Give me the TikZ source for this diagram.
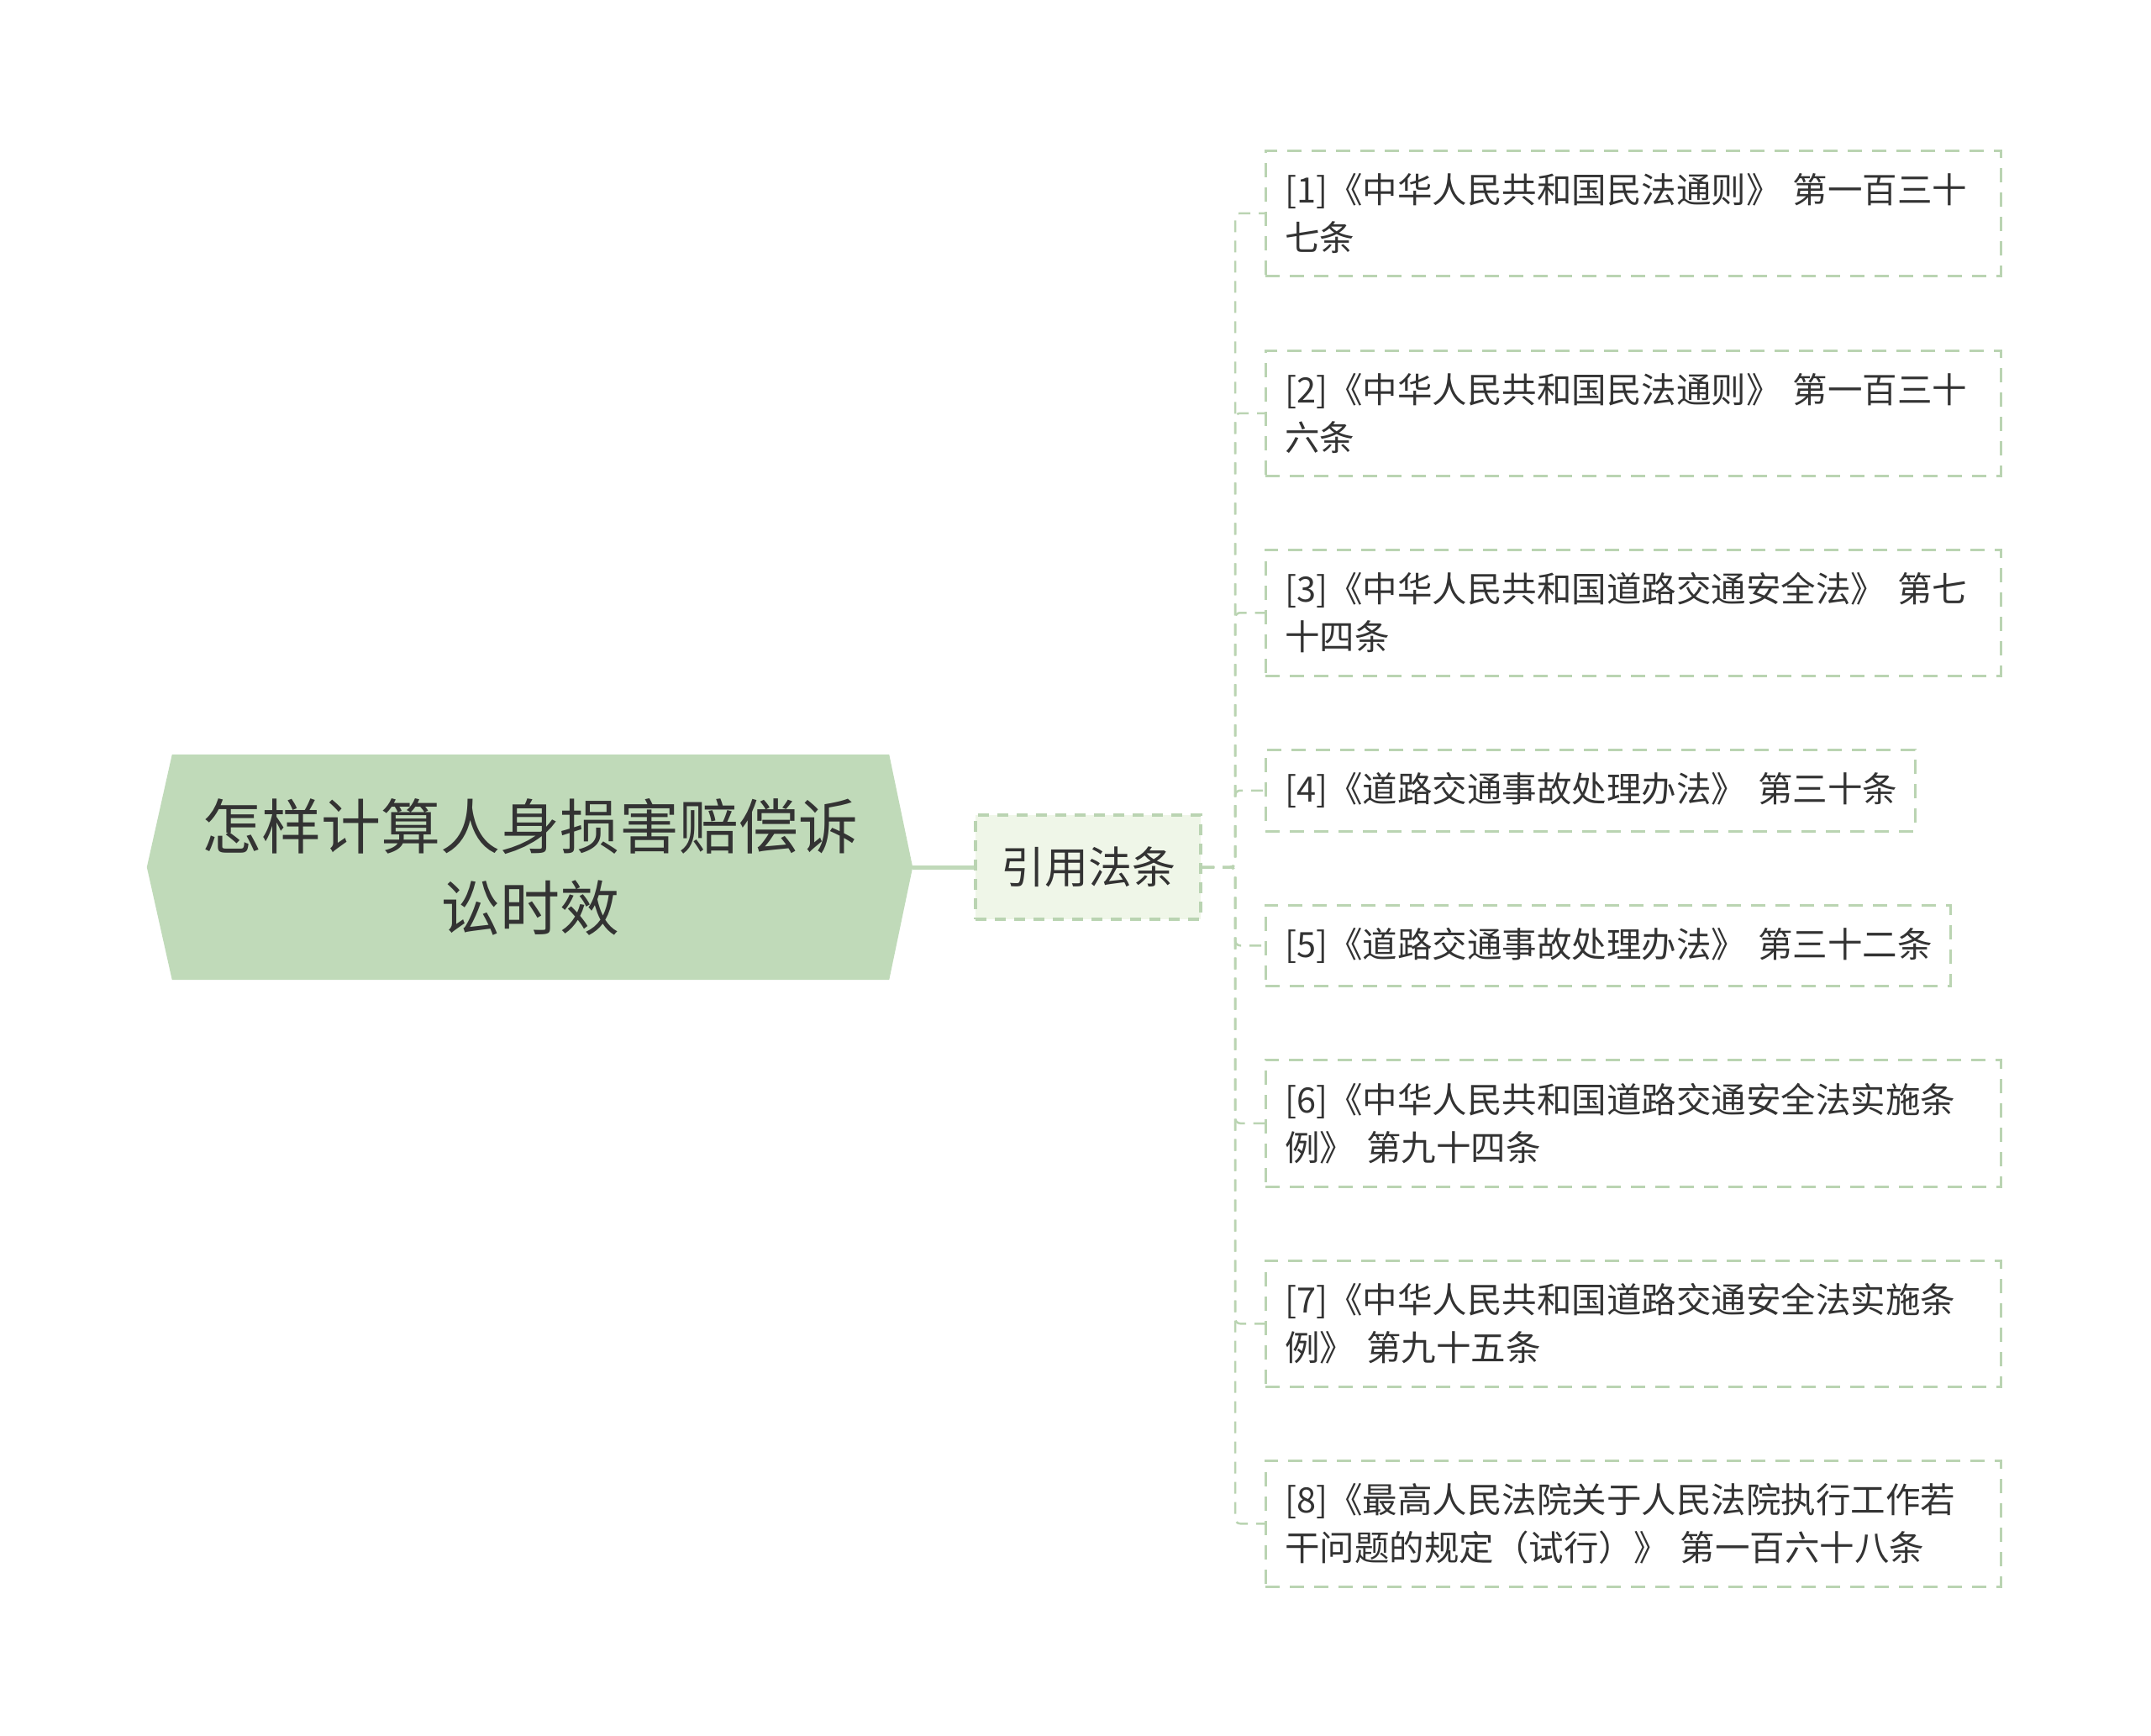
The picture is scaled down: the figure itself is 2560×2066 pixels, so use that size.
\documentclass[tikz,border=0pt]{standalone}
\usepackage{fontspec}
\newfontfamily\cjk{Noto Sans CJK SC}
\usetikzlibrary{backgrounds,calc}
\definecolor{rootfill}{RGB}{192,218,185}
\definecolor{midfill}{RGB}{239,246,232}
\definecolor{edgegreen}{RGB}{186,212,178}
\definecolor{linegreen}{RGB}{192,217,185}
\definecolor{txt}{RGB}{51,51,51}
\begin{document}
\begin{tikzpicture}[x=1pt,y=-1pt,
  rootnode/.style={inner sep=0pt, minimum width=911pt, minimum height=268pt, align=center, text=txt,
    font={\fontsize{71}{97}\selectfont\cjk}},
  midbox/.style={draw=edgegreen, fill=midfill, line width=4pt, dash pattern=on 13pt off 10pt,
    inner sep=0pt, minimum width=268pt, minimum height=124pt, text=txt,
    font={\fontsize{52}{60}\selectfont\cjk}},
  leafbox/.style={draw=edgegreen, fill=white, line width=2.5pt, dash pattern=on 17pt off 12pt,
    inner xsep=23pt, inner ysep=0pt, anchor=north west, align=left, text=txt,
    font={\fontsize{41.5}{57}\selectfont\cjk}},
  solidconn/.style={draw=linegreen, line width=5pt},
  dashconn/.style={draw=edgegreen, line width=2.5pt, dash pattern=on 14pt off 10pt, rounded corners=6pt}
]
\useasboundingbox (0,0) rectangle (2560,2066);
\begin{pgfonlayer}{background}
\fill[white] (0,0) rectangle (2560,2066);
\end{pgfonlayer}

\node[rootnode] (root) at (630.5,1032) {怎样计算人身损害赔偿诉\\讼时效};
\begin{pgfonlayer}{background}
\fill[rootfill] (root.west) -- ([xshift=30pt]root.north west) -- ([xshift=-28pt]root.north east)
  -- (root.east) -- ([xshift=-28pt]root.south east) -- ([xshift=30pt]root.south west) -- cycle;
\end{pgfonlayer}

\node[midbox] (mid) at (1295,1032) {引用法条};

\node[leafbox, text width=829pt, minimum height=149pt] (l1) at (1505,178) {[1]《中华人民共和国民法通则》~第一百三十\\七条};
\node[leafbox, text width=829pt, minimum height=149pt] (l2) at (1505,416) {[2]《中华人民共和国民法通则》~第一百三十\\六条};
\node[leafbox, text width=829pt, minimum height=150pt] (l3) at (1505,653) {[3]《中华人民共和国道路交通安全法》~第七\\十四条};
\node[leafbox, text width=727pt, minimum height=97pt] (l4) at (1505,891) {[4]《道路交通事故处理办法》~第三十条};
\node[leafbox, text width=769pt, minimum height=96pt] (l5) at (1505,1076) {[5]《道路交通事故处理办法》~第三十二条};
\node[leafbox, text width=829pt, minimum height=151pt] (l6) at (1505,1260) {[6]《中华人民共和国道路交通安全法实施条\\例》~第九十四条};
\node[leafbox, text width=829pt, minimum height=150pt] (l7) at (1505,1499) {[7]《中华人民共和国道路交通安全法实施条\\例》~第九十五条};
\node[leafbox, text width=829pt, minimum height=150pt] (l8) at (1505,1737) {[8]《最高人民法院关于人民法院执行工作若\\干问题的规定（试行）》~第一百六十八条};

\draw[solidconn] (root.east) -- (mid.west);
\foreach \n in {l1,l2,l3,l4,l5,l6,l7,l8}{
  \draw[dashconn] (mid.east) -- ++(39,0) |- (\n.west);
}
\end{tikzpicture}
\end{document}
